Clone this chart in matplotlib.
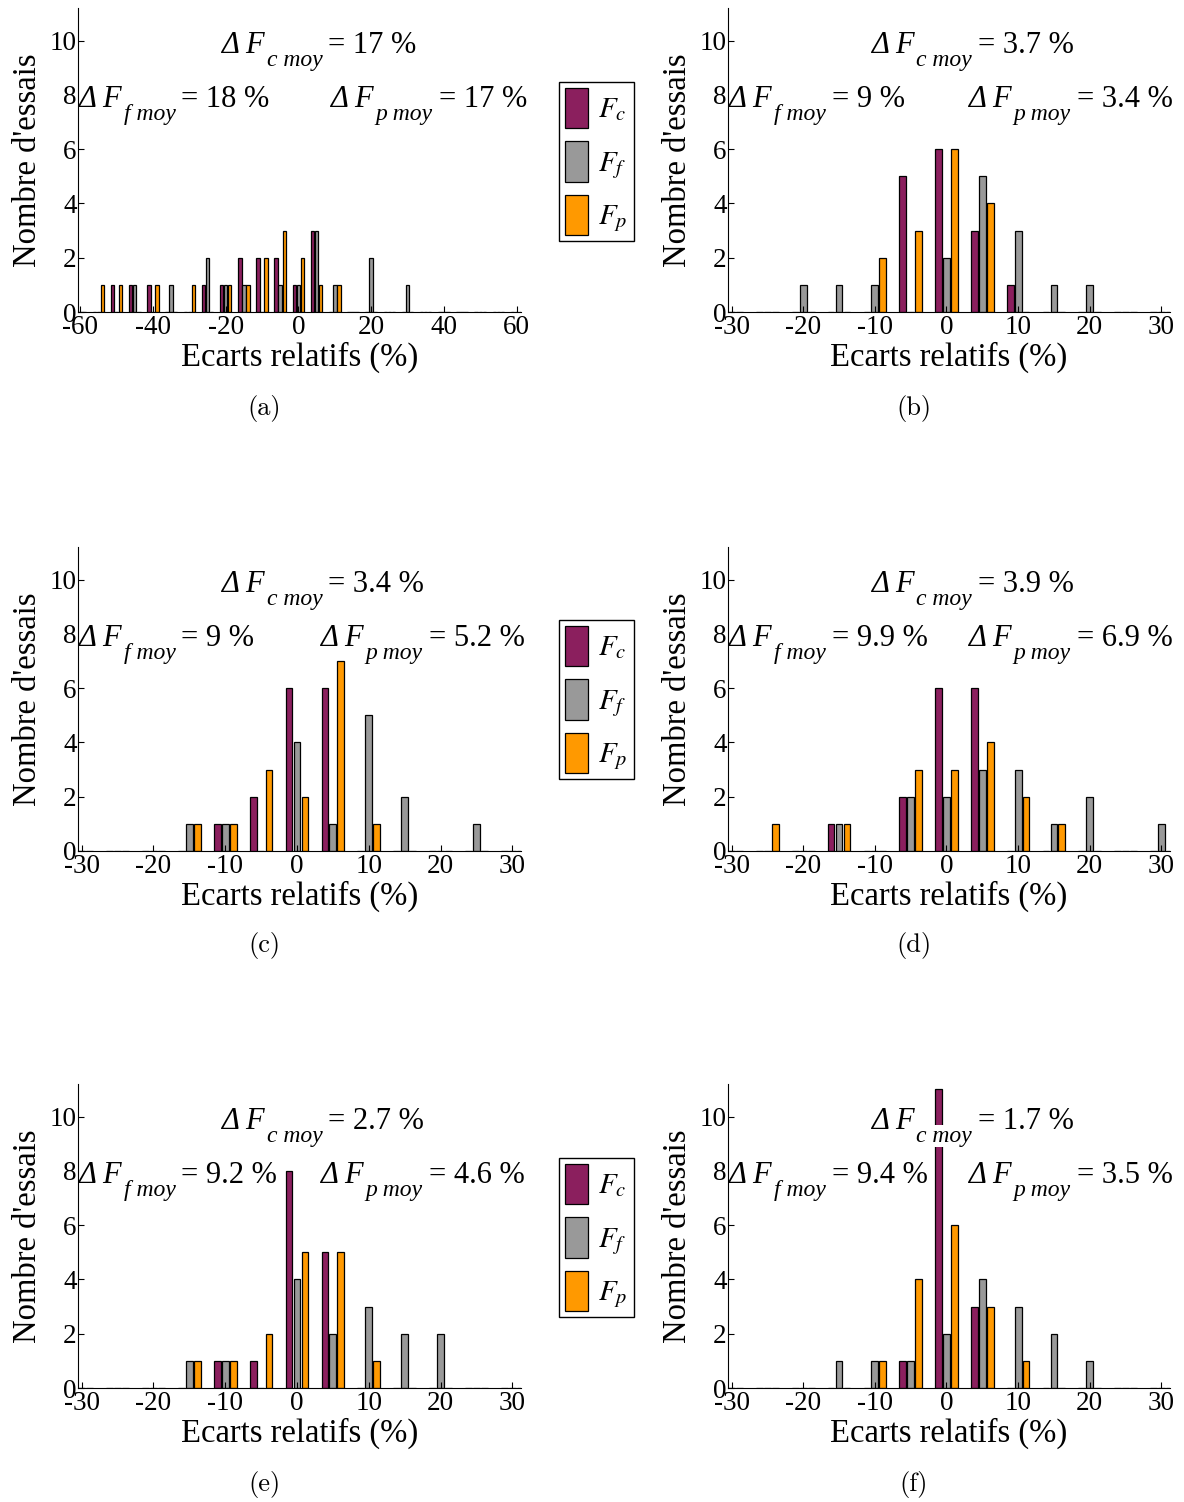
import numpy as np
import matplotlib
matplotlib.use('Agg')
import matplotlib.pyplot as plt
from matplotlib.patches import Patch

plt.rcParams['font.family'] = 'Liberation Serif'
plt.rcParams['mathtext.fontset'] = 'stix'
plt.rcParams['axes.unicode_minus'] = False

# bins (ecarts relatifs, %)
bins_a = [-60, -55, -50, -45, -40, -35, -30, -25, -20, -15, -10, -5, 0,
          5, 10, 15, 20, 25, 30, 35, 40, 45, 50, 55, 60]
bins = [-30, -25, -20, -15, -10, -5, 0, 5, 10, 15, 20, 25, 30]

# nombre d'essais par bin : Fc, Ff, Fp
fc_a = [0, 0, 1, 1, 1, 0, 0, 1, 1, 2, 2, 2, 1, 3, 0, 0, 0, 0, 0, 0, 0, 0, 0, 0, 0]
ff_a = [0, 0, 0, 1, 0, 1, 0, 2, 1, 1, 0, 1, 1, 3, 1, 0, 2, 0, 1, 0, 0, 0, 0, 0, 0]
fp_a = [0, 1, 1, 0, 1, 0, 1, 0, 1, 1, 2, 3, 2, 1, 1, 0, 0, 0, 0, 0, 0, 0, 0, 0, 0]

fc_b = [0, 0, 0, 0, 0, 5, 6, 3, 1, 0, 0, 0, 0]
ff_b = [0, 0, 1, 1, 1, 0, 2, 5, 3, 1, 1, 0, 0]
fp_b = [0, 0, 0, 0, 2, 3, 6, 4, 0, 0, 0, 0, 0]

fc_c = [0, 0, 0, 0, 1, 2, 6, 6, 0, 0, 0, 0, 0]
ff_c = [0, 0, 0, 1, 1, 0, 4, 1, 5, 2, 0, 1, 0]
fp_c = [0, 0, 0, 1, 1, 3, 2, 7, 1, 0, 0, 0, 0]

fc_d = [0, 0, 0, 1, 0, 2, 6, 6, 0, 0, 0, 0, 0]
ff_d = [0, 0, 0, 1, 0, 2, 2, 3, 3, 1, 2, 0, 1]
fp_d = [0, 1, 0, 1, 0, 3, 3, 4, 2, 1, 0, 0, 0]

fc_e = [0, 0, 0, 0, 1, 1, 8, 5, 0, 0, 0, 0, 0]
ff_e = [0, 0, 0, 1, 1, 0, 4, 2, 3, 2, 2, 0, 0]
fp_e = [0, 0, 0, 1, 1, 2, 5, 5, 1, 0, 0, 0, 0]

fc_f = [0, 0, 0, 0, 0, 1, 11, 3, 0, 0, 0, 0, 0]
ff_f = [0, 0, 0, 1, 1, 1, 2, 4, 3, 2, 1, 0, 0]
fp_f = [0, 0, 0, 0, 1, 4, 6, 3, 1, 0, 0, 0, 0]

# ecarts moyens (%)
moy_c = ['17', '3.7', '3.4', '3.9', '2.7', '1.7']
moy_f = ['18', '9', '9', '9.9', '9.2', '9.4']
moy_p = ['17', '3.4', '5.2', '6.9', '4.6', '3.5']

letters = ['(a)', '(b)', '(c)', '(d)', '(e)', '(f)']

col_c = '#8b1f5e'
col_f = '#999999'
col_p = '#ff9900'

W, H = 1184, 1502
fig = plt.figure(figsize=(W / 100, H / 100), dpi=100)
renderer = fig.canvas.get_renderer()

panels = [
    (bins_a, fc_a, ff_a, fp_a),
    (bins, fc_b, ff_b, fp_b),
    (bins, fc_c, ff_c, fp_c),
    (bins, fc_d, ff_d, fp_d),
    (bins, fc_e, ff_e, fp_e),
    (bins, fc_f, ff_f, fp_f),
]

lefts = [78, 728]
widths = [443, 442]
zeros = [312, 851, 1388]
ax_h = 304
p_right = [0.569, 0.543, 0.546, 0.543, 0.546, 0.543]

off = 1.11
bw = 0.95


def delta_text(ax, x, y, sub, val):
    # "ΔF" + subscript dropped low + "= val %"
    inv = ax.transAxes.inverted()
    box = dict(facecolor='white', edgecolor='none', pad=0.5)
    kw = dict(transform=ax.transAxes, va='baseline', ha='left', zorder=2, bbox=box)
    t1 = ax.text(x, y, '\u0394 F', fontsize=22, style='italic', **kw)
    x0, yb = ax.transAxes.transform((x, y))
    bb = t1.get_window_extent(renderer)
    xs, ys = inv.transform((bb.x1 + 2, yb - 13))
    t2 = ax.text(xs, ys, sub + ' moy', fontsize=17, style='italic', **kw)
    bb2 = t2.get_window_extent(renderer)
    xr, yr = inv.transform((bb2.x1 + 6, yb))
    ax.text(xr, yr, '= ' + val + ' %', fontsize=22, **kw)


for i, (bx, c, f, p) in enumerate(panels):
    row, col = i // 2, i % 2
    ax = fig.add_axes([lefts[col] / W, 1 - zeros[row] / H,
                       widths[col] / W, ax_h / H])
    bx = np.array(bx, dtype=float)
    for shift, vals, colr in [(-off, c, col_c), (0, f, col_f), (off, p, col_p)]:
        ax.bar(bx + shift, vals, width=bw, color=colr, edgecolor='black',
               linewidth=0.9)
    if i == 0:
        ax.set_xlim(-60.6, 61.2)
        ax.set_xticks([-60, -40, -20, 0, 20, 40, 60])
        ax.set_xticklabels(['-60', '-40', '-20', '0', '20', '40', '60'])
    else:
        ax.set_xlim(-30.5, 31.2)
        ax.set_xticks([-30, -20, -10, 0, 10, 20, 30])
        ax.set_xticklabels(['-30', '-20', '-10', '0', '10', '20', '30'])
    ax.set_ylim(0, 11.2)
    ax.set_yticks([0, 2, 4, 6, 8, 10])
    ax.set_yticklabels(['0', '2', '4', '6', '8', '10'])
    ax.spines['top'].set_visible(False)
    ax.spines['right'].set_visible(False)
    ax.tick_params(direction='in', length=4, width=0.8, labelsize=19.5)
    ax.tick_params(axis='y', pad=1)
    ax.tick_params(axis='x', pad=2)
    ax.set_ylabel("Nombre d'essais", fontsize=23.5)
    ax.yaxis.set_label_coords(-0.079, 0.5)
    ax.set_xlabel('Ecarts relatifs (%)', fontsize=23.5)
    ax.xaxis.set_label_coords(0.5, -0.097)

    delta_text(ax, 0.323, 9.55 / 11.2, 'c', moy_c[i])
    delta_text(ax, 0.0, 7.55 / 11.2, 'f', moy_f[i])
    delta_text(ax, p_right[i], 7.55 / 11.2, 'p', moy_p[i])

    cx = (lefts[col] + widths[col] * 0.42) / W
    fig.text(cx, 1 - 408 / H - row * 538 / H, letters[i], fontsize=19,
             fontfamily='cmr10', ha='center', va='center')

    if col == 0:
        handles = [Patch(facecolor=col_c, edgecolor='black', linewidth=0.9),
                   Patch(facecolor=col_f, edgecolor='black', linewidth=0.9),
                   Patch(facecolor=col_p, edgecolor='black', linewidth=0.9)]
        ax.legend(handles, [r'$F_c$', r'$F_f$', r'$F_p$'],
                  loc='upper left',
                  bbox_to_anchor=(559 / W, 1 - (82 + row * 538) / H),
                  bbox_transform=fig.transFigure,
                  fontsize=21, handlelength=0.8, handleheight=1.75,
                  labelspacing=0.45, handletextpad=0.35, borderpad=0.2,
                  borderaxespad=0, fancybox=False, framealpha=1,
                  edgecolor='black')
        ax.get_legend().get_frame().set_linewidth(1.0)

fig.savefig('out.png', dpi=100)
